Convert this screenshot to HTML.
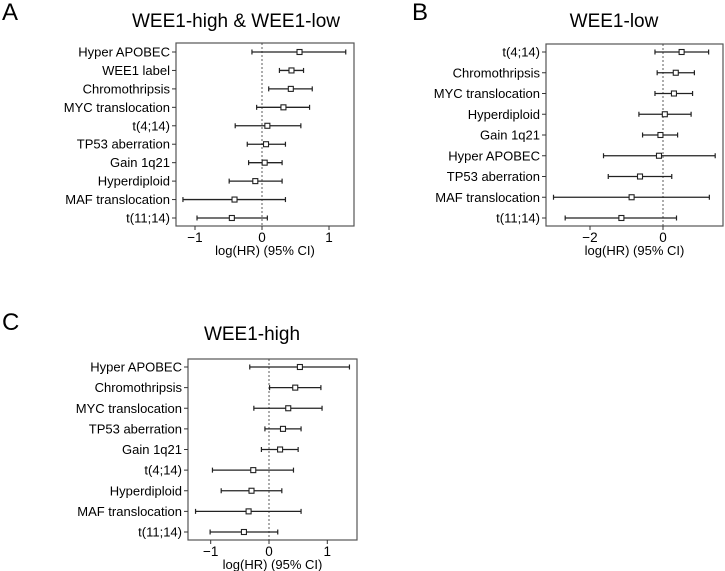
<!DOCTYPE html>
<html><head><meta charset="utf-8"><style>
html,body{margin:0;padding:0;background:#fff;width:725px;height:571px;overflow:hidden}
svg{display:block;font-family:"Liberation Sans","DejaVu Sans",sans-serif}
</style></head><body>
<svg id="fig" width="725" height="571"></svg>
<script>
// Panel A data
const catsA = ["Hyper APOBEC","WEE1 label","Chromothripsis","MYC translocation","t(4;14)","TP53 aberration","Gain 1q21","Hyperdiploid","MAF translocation","t(11;14)"];
const hrA = [0.56,0.44,0.43,0.32,0.08,0.06,0.04,-0.10,-0.41,-0.45];
const loA = [-0.15,0.26,0.10,-0.08,-0.40,-0.22,-0.20,-0.49,-1.18,-0.97];
const hiA = [1.25,0.62,0.75,0.71,0.58,0.35,0.30,0.30,0.35,0.08];
const ticksA = [-1,0,1];
// Panel B data
const catsB = ["t(4;14)","Chromothripsis","MYC translocation","Hyperdiploid","Gain 1q21","Hyper APOBEC","TP53 aberration","MAF translocation","t(11;14)"];
const hrB = [0.51,0.35,0.30,0.05,-0.07,-0.11,-0.63,-0.86,-1.14];
const loB = [-0.22,-0.16,-0.22,-0.66,-0.56,-1.63,-1.50,-3.00,-2.68];
const hiB = [1.25,0.86,0.81,0.77,0.40,1.43,0.24,1.27,0.37];
const ticksB = [-2,0];
// Panel C data
const catsC = ["Hyper APOBEC","Chromothripsis","MYC translocation","TP53 aberration","Gain 1q21","t(4;14)","Hyperdiploid","MAF translocation","t(11;14)"];
const hrC = [0.53,0.45,0.33,0.24,0.19,-0.27,-0.30,-0.35,-0.43];
const loC = [-0.33,0.01,-0.26,-0.07,-0.13,-0.97,-0.82,-1.26,-1.01];
const hiC = [1.38,0.89,0.91,0.55,0.50,0.42,0.22,0.55,0.15];
const ticksC = [-1,0,1];

const NS="http://www.w3.org/2000/svg";
const svg=document.getElementById('fig');
function mk(tag,attrs,parent,text){const e=document.createElementNS(NS,tag);for(const k in attrs)e.setAttribute(k,attrs[k]);if(text!==undefined)e.textContent=text;(parent||svg).appendChild(e);return e;}

function panel(p){
  const g=mk('g',{});
  
  
  const sx=v=>p.x0+(v-p.vmin)*(p.x1-p.x0)/(p.vmax-p.vmin);
  const n=p.cats.length;
  const sy=i=>p.yFirst+i*(p.yLast-p.yFirst)/(n-1);
  const letter=mk('text',{x:p.lx,y:p.ly,'font-size':24,fill:'#000'},g,p.letter);
  
  
  const title=mk('text',{x:p.tx,y:p.ty,'font-size':19,'text-anchor':'middle',fill:'#000'},g,p.title);
  
  
  const box=mk('rect',{x:p.x0,y:p.y0,width:p.x1-p.x0,height:p.y1-p.y0,fill:'none',stroke:'#555','stroke-width':1.2},g);
  
  
  const zl=mk('line',{x1:sx(0),x2:sx(0),y1:p.y0,y2:p.y1,stroke:'#333','stroke-width':0.8,'stroke-dasharray':'2,2'},g);
  
  
  p.ticks.forEach(t=>{
    mk('line',{x1:sx(t),x2:sx(t),y1:p.y1,y2:p.y1+4,stroke:'#333'},g);
    const tl=mk('text',{x:sx(t),y:p.y1+16,'font-size':13.5,'text-anchor':'middle',fill:'#000'},g,t<0?'\u2212'+Math.abs(t):String(t));
    
    
  });
  const xl=mk('text',{x:(p.x0+p.x1)/2,y:p.y1+29,'font-size':13,'text-anchor':'middle',fill:'#000'},g,'log(HR) (95% CI)');
  
  
  p.cats.forEach((c,i)=>{
    const y=sy(i);
    mk('line',{x1:p.x0-4,x2:p.x0,y1:y,y2:y,stroke:'#333'},g);
    const lab=mk('text',{x:p.x0-6,y:y+4.5,'font-size':13,'text-anchor':'end',fill:'#000'},g,c);
    
    
    const ci=mk('line',{x1:sx(p.lo[i]),x2:sx(p.hi[i]),y1:y,y2:y,stroke:'#222','stroke-width':1.3},g);
    
    
    [p.lo[i],p.hi[i]].forEach(v=>mk('line',{x1:sx(v),x2:sx(v),y1:y-2.5,y2:y+2.5,stroke:'#222','stroke-width':1.2},g));
    const pt=mk('rect',{x:sx(p.hr[i])-2.5,y:y-2.5,width:5,height:5,fill:'#fff',stroke:'#222','stroke-width':1.1},g);
    
    
  });
}
panel({name:'panel-a-wee1-high-and-low',letter:'A',lx:2,ly:20,title:'WEE1-high & WEE1-low',tx:236,ty:27,
  cats:catsA,hr:hrA,lo:loA,hi:hiA,ticks:ticksA,x0:176,x1:354,y0:43,y1:226,yFirst:52,yLast:218,
  vmin:(176-262)/67,vmax:(354-262)/67});
panel({name:'panel-b-wee1-low',letter:'B',lx:412,ly:20,title:'WEE1-low',tx:614,ty:27,
  cats:catsB,hr:hrB,lo:loB,hi:hiB,ticks:ticksB,x0:546,x1:723,y0:44,y1:226,yFirst:52,yLast:218,
  vmin:(546-663)/36.5,vmax:(723-663)/36.5});
panel({name:'panel-c-wee1-high',letter:'C',lx:2,ly:330,title:'WEE1-high',tx:252,ty:340,
  cats:catsC,hr:hrC,lo:loC,hi:hiC,ticks:ticksC,x0:188,x1:357,y0:359,y1:540,yFirst:367,yLast:532,
  vmin:(188-269)/58.3,vmax:(357-269)/58.3});
</script>
</body></html>
